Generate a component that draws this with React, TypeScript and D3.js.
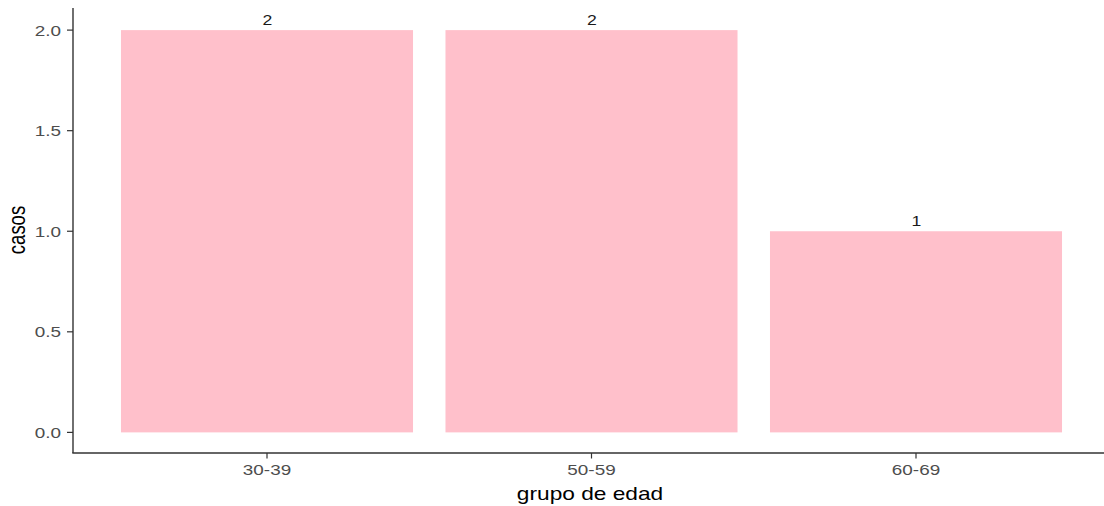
import React from "react";
import * as d3 from "d3";

const categories = ["30-39", "50-59", "60-69"];
const casos = [2, 2, 1];
const yTicks = [0, 0.5, 1, 1.5, 2];

const W = 1104;
const H = 506;
const panelLeft = 73;
const panelTop = 10;
const panelBottom = 452.5;
const SX = 1.26;

export default function App() {
  const step = (916 - 267) / 2;
  const x = d3
    .scaleBand<string>()
    .domain(categories)
    .range([267 - step / 2, 916 + step / 2])
    .paddingInner(0.1)
    .paddingOuter(0.05);
  const y = d3.scaleLinear().domain([-0.1, 2.1]).range([panelBottom, panelTop]);
  const font = "'Liberation Sans', Arial, sans-serif";
  const st = (tx: number, ty: number, extra = "") => `translate(${tx},${ty}) scale(${SX},1)${extra}`;
  return (
    <svg
      width={W}
      height={H}
      style={{ position: "absolute", left: 0, top: 0, background: "#fff" }}
      fontFamily={font}
    >
      {categories.map((c, i) => (
        <g key={c}>
          <rect
            x={x(c)!}
            y={y(casos[i])}
            width={x.bandwidth()}
            height={y(0) - y(casos[i])}
            fill="#FFC0CB"
          />
          <text
            transform={st(x(c)! + x.bandwidth() / 2 + 0.5, y(casos[i]) - 5)}
            textAnchor="middle"
            fontSize={14}
            fill="#1a1a1a"
          >
            {casos[i]}
          </text>
        </g>
      ))}
      {/* y axis */}
      <line x1={panelLeft} x2={panelLeft} y1={panelTop - 2} y2={panelBottom + 0.5} stroke="#333" strokeWidth={1.4} />
      {yTicks.map((t) => (
        <g key={t}>
          <line x1={panelLeft - 6} x2={panelLeft} y1={y(t)} y2={y(t)} stroke="#333" strokeWidth={1.2} />
          <text transform={st(61, y(t))} dy="0.36em" textAnchor="end" fontSize={15} fill="#4d4d4d">
            {t.toFixed(1)}
          </text>
        </g>
      ))}
      {/* x axis */}
      <line x1={panelLeft - 0.7} x2={W} y1={panelBottom + 0.5} y2={panelBottom + 0.5} stroke="#333" strokeWidth={1.4} />
      {categories.map((c) => {
        const cx = x(c)! + x.bandwidth() / 2;
        return (
          <g key={c}>
            <line x1={cx} x2={cx} y1={panelBottom + 0.5} y2={panelBottom + 6} stroke="#333" strokeWidth={1.2} />
            <text transform={st(cx, 475)} textAnchor="middle" fontSize={15} fill="#4d4d4d">
              {c}
            </text>
          </g>
        );
      })}
      <text transform={st(590, 500)} textAnchor="middle" fontSize={18} fill="#000">
        grupo de edad
      </text>
      <text transform={st(25, 230, " rotate(-90)")} textAnchor="middle" fontSize={18.5} fill="#000">
        casos
      </text>
    </svg>
  );
}
